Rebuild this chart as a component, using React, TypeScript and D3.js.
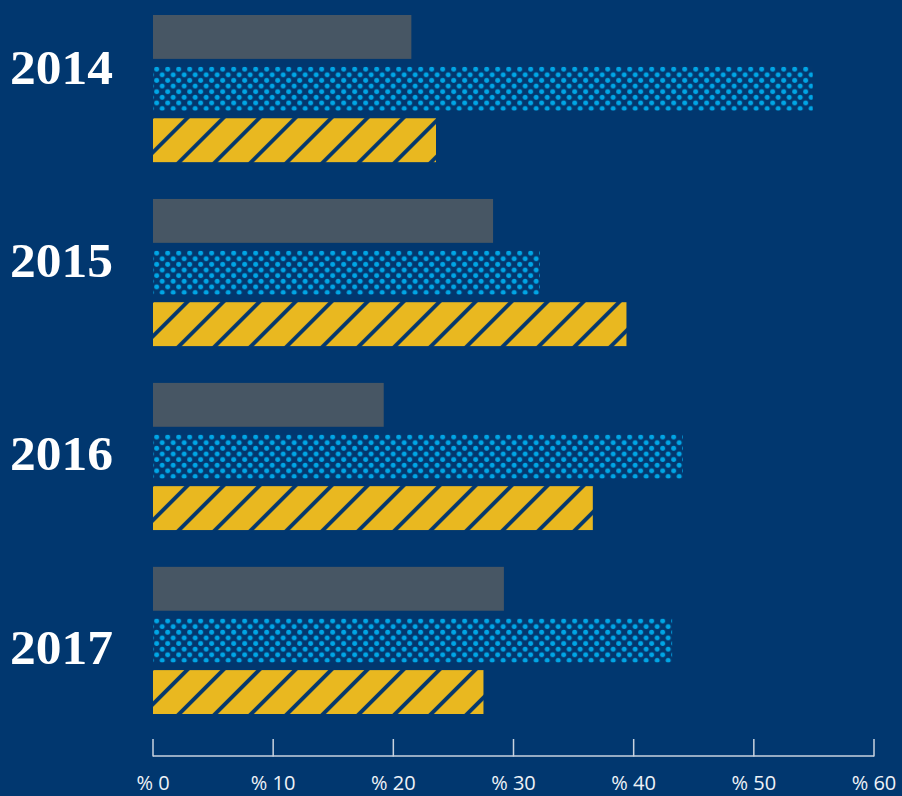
import React from "react";
import * as d3 from "d3";

const years = ["2014", "2015", "2016", "2017"];
const seriesKeys = ["gray", "blue", "yellow"];
const grayValues = [21.5, 28.3, 19.2, 29.2];
const blueValues = [54.9, 32.2, 44.1, 43.2];
const yellowValues = [23.55, 39.4, 36.6, 27.5];
const tickValues = [0, 10, 20, 30, 40, 50, 60];

const W = 902;
const H = 796;
const BG = "#01376F";
const GRAY = "#475664";
const BLUE = "#00A6E6";
const YELLOW = "#E9B820";
const NAVY = "#03376E";

export default function App() {
  const x = d3.scaleLinear().domain([0, 60]).range([153, 874]);
  const yOuter = d3.scaleBand<string>().domain(years).range([15, 714]).paddingInner(0.2).paddingOuter(0);
  const yInner = d3.scaleBand<string>().domain(seriesKeys).range([0, yOuter.bandwidth()]).paddingInner(0.15).paddingOuter(0);
  const yLabel = d3.scalePoint<string>().domain(years).range([67.5, 647.5]);
  const valuesBy: Record<string, number[]> = { gray: grayValues, blue: blueValues, yellow: yellowValues };

  const bars: { key: string; i: number; x0: number; y0: number; w: number; h: number }[] = [];
  years.forEach((yr, i) => {
    seriesKeys.forEach((k) => {
      const y0 = (yOuter(yr) as number) + (yInner(k) as number);
      bars.push({ key: k, i, x0: x(0), y0, w: x(valuesBy[k][i]) - x(0), h: yInner.bandwidth() });
    });
  });

  const dotW = 11;
  const dotH = 11.26;
  const dotR = 2.45;
  const stripeP = 36 / Math.SQRT2;
  const stripeW = 3.8;

  return (
    <div style={{ position: "absolute", left: 0, top: 0 }}>
      <svg width={W} height={H} style={{ display: "block" }}>
        <defs>
          {bars.filter((b) => b.key === "blue").map((b) => (
            <pattern key={"d" + b.i} id={"dots" + b.i} patternUnits="userSpaceOnUse"
              x={b.x0 + 1.2} y={b.y0 + 0.3} width={dotW} height={dotH}>
              <rect width={dotW} height={dotH} fill={NAVY} />
              {[0, dotW].map((dx) => [0, dotH].map((dy) => (
                <circle key={dx + "-" + dy} cx={2.5 + dx} cy={2.2 + dy} r={dotR} fill={BLUE} />
              )))}
              <circle cx={2.5 + dotW / 2} cy={2.2 + dotH / 2} r={dotR} fill={BLUE} />
              <circle cx={2.5 - dotW} cy={2.2} r={dotR} fill={BLUE} />
              <circle cx={2.5} cy={2.2 - dotH} r={dotR} fill={BLUE} />
            </pattern>
          ))}
          {bars.filter((b) => b.key === "yellow").map((b) => (
            <pattern key={"s" + b.i} id={"stripes" + b.i} patternUnits="userSpaceOnUse"
              width={stripeP} height={stripeP}
              patternTransform={`translate(${b.x0 + 34},${b.y0}) rotate(45)`}>
              <rect width={stripeP} height={stripeP} fill={YELLOW} />
              <rect x={0} y={0} width={stripeW / 2} height={stripeP} fill={NAVY} />
              <rect x={stripeP - stripeW / 2} y={0} width={stripeW / 2} height={stripeP} fill={NAVY} />
            </pattern>
          ))}
        </defs>
        <rect width={W} height={H} fill={BG} />
        {bars.map((b) => (
          <rect key={b.key + b.i} x={b.x0} y={b.y0} width={b.w} height={b.h}
            fill={b.key === "gray" ? GRAY : b.key === "blue" ? `url(#dots${b.i})` : `url(#stripes${b.i})`} />
        ))}
        {years.map((yr) => (
          <text key={yr} x={10} y={(yLabel(yr) as number) + 16} fill="#ffffff"
            fontFamily="'Liberation Serif', serif" fontWeight="bold" fontSize={48}
            textLength={103} lengthAdjust="spacingAndGlyphs">{yr}</text>
        ))}
        <line x1={x(0)} x2={x(60)} y1={756} y2={756} stroke="#c9d3df" strokeWidth={1.5} />
        {tickValues.map((t) => (
          <g key={t} transform={`translate(${x(t)},0)`}>
            <line y1={739} y2={756.5} stroke="#c9d3df" strokeWidth={1.5} />
            <text y={790} textAnchor="middle" fill="#eef2f7" fontFamily="'Open Sans', sans-serif" fontSize={20}>
              {"% " + t}
            </text>
          </g>
        ))}
      </svg>
    </div>
  );
}
